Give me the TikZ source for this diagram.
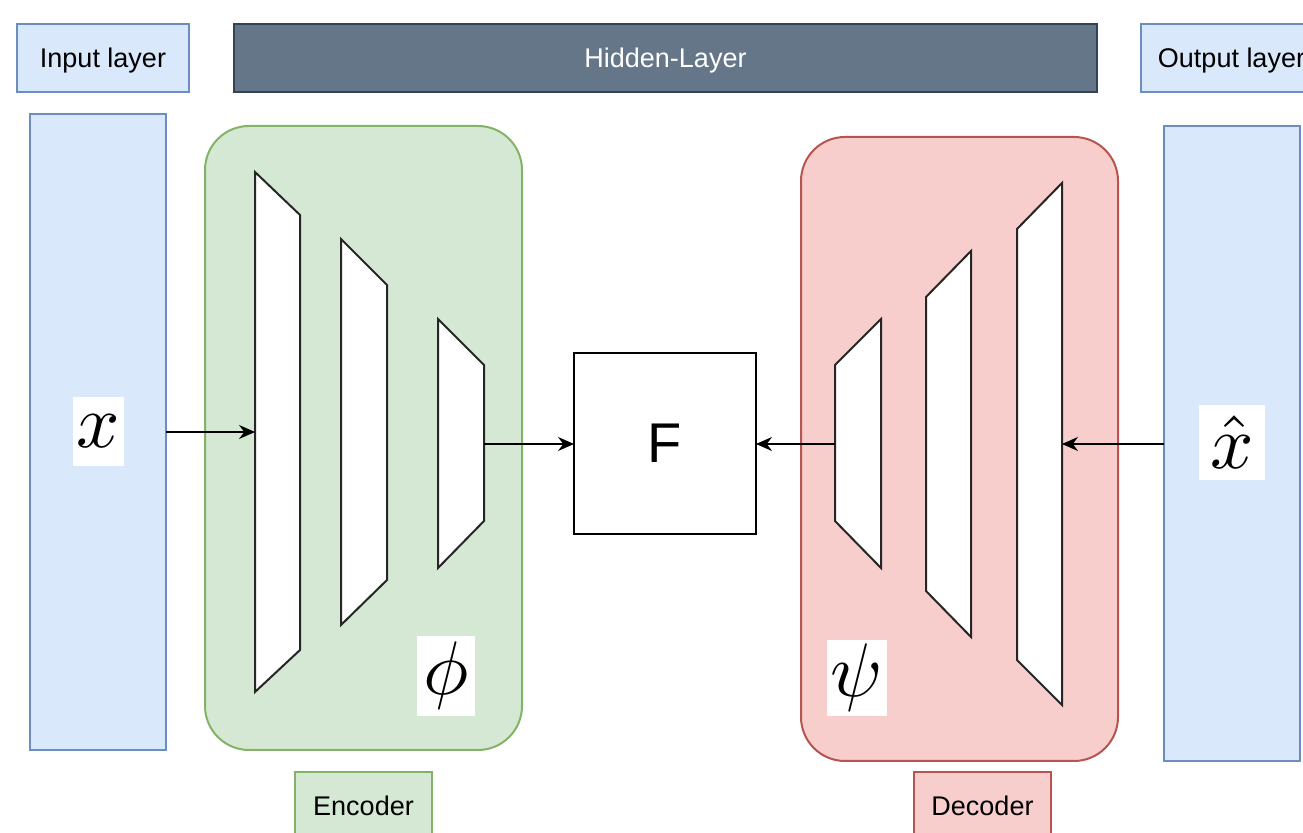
\documentclass[tikz,border=0pt]{standalone}
\usepackage{graphicx}
\usepackage{fontspec}
\setmainfont{Liberation Sans}
\usetikzlibrary{arrows.meta}
\definecolor{bluefill}{HTML}{DAE8FC}
\definecolor{blueline}{HTML}{6C8EBF}
\definecolor{greenfill}{HTML}{D5E8D4}
\definecolor{greenline}{HTML}{82B366}
\definecolor{redfill}{HTML}{F8CECC}
\definecolor{redline}{HTML}{B85450}
\definecolor{darkfill}{HTML}{647687}
\definecolor{darkline}{HTML}{314354}
\newcommand{\bigmath}[1]{\scalebox{3.8}{$#1$}}
\tikzset{
  base/.style={inner sep=0pt, outer sep=0pt, line width=1pt},
  bluebox/.style={base, draw=blueline, fill=bluefill},
  greenbox/.style={base, draw=greenline, fill=greenfill},
  redbox/.style={base, draw=redline, fill=redfill},
  darkbox/.style={base, draw=darkline, fill=darkfill, text=white},
  lbl/.style={font=\fontsize{13.5}{15}\selectfont, text height=12.4pt, text depth=2.9pt},
  mathlbl/.style={base, draw=none, fill=white},
  trap/.style={draw=black!85, line width=1pt, fill=white, line join=miter},
  arr/.style={draw=black, line width=0.9pt, -{Stealth[length=8pt,width=7pt]}},
  fbox/.style={base, draw=black, fill=white, font=\fontsize{28}{30}\selectfont},
}
\begin{document}
\begin{tikzpicture}[x=0.5pt,y=-0.5pt]
\useasboundingbox (0,0) rectangle (1303,833);
\clip (0,0) rectangle (1303,833);
% top labels
\node[bluebox, lbl, minimum width=86pt, minimum height=34pt] (inlbl) at (103,58) {Input layer};
\node[darkbox, lbl, minimum width=431.5pt, minimum height=34pt] (hidden) at (665.5,58) {Hidden-Layer};
\node[bluebox, lbl, minimum width=90.5pt, minimum height=34pt] (outlbl) at (1231.5,58) {Output layer};
% input / output columns
\node[bluebox, minimum width=68pt, minimum height=318pt] (incol) at (98,432) {};
\node[mathlbl, minimum width=25.5pt, minimum height=34.5pt] (xlbl) at (98.5,431.5) {\bigmath{x}};
\node[bluebox, minimum width=68pt, minimum height=317.5pt] (outcol) at (1232,443.5) {};
\node[mathlbl, minimum width=33pt, minimum height=37.5pt] (xhatlbl) at (1232,442.5) {\bigmath{\hat{x}}};
% encoder / decoder containers
\node[greenbox, rounded corners=22pt, minimum width=158.5pt, minimum height=312pt] (enc) at (363.5,438) {};
\node[redbox, rounded corners=22pt, minimum width=158.5pt, minimum height=312pt] (dec) at (959.5,449) {};
% bottom labels
\node[greenbox, lbl, minimum width=68.5pt, minimum height=34pt] (enclbl) at (363.5,806) {Encoder};
\node[redbox, lbl, minimum width=68.5pt, minimum height=34pt] (declbl) at (982.5,806) {Decoder};
% encoder layers
\draw[trap] (255,172) -- (300,215) -- (300,650) -- (255,692) -- cycle;
\draw[trap] (341,239) -- (387,285) -- (387,580) -- (341,625) -- cycle;
\draw[trap] (438,319) -- (484,365) -- (484,521) -- (438,568) -- cycle;
% decoder layers
\draw[trap] (835,365) -- (881,319) -- (881,568) -- (835,521) -- cycle;
\draw[trap] (926,297) -- (971,251) -- (971,637) -- (926,591) -- cycle;
\draw[trap] (1017,229) -- (1062,183) -- (1062,705) -- (1017,660) -- cycle;
% greek labels
\node[mathlbl, minimum width=29pt, minimum height=40pt] (philbl) at (446,676) {\bigmath{\phi}};
\node[mathlbl, minimum width=30pt, minimum height=38pt] (psilbl) at (857,678) {\bigmath{\psi}};
% latent
\node[fbox, minimum width=91pt, minimum height=90.5pt] (F) at (665,443.5) {F};
% connector endpoints
\coordinate (e1in) at (255,432);
\coordinate (e3out) at (484,444);
\coordinate (d1out) at (835,444);
\coordinate (d3in) at (1062,444);
\draw[arr] (incol.east |- e1in) -- (e1in);
\draw[arr] (e3out) -- (F.west |- e3out);
\draw[arr] (d1out) -- (F.east |- d1out);
\draw[arr] (outcol.west |- d3in) -- (d3in);
\end{tikzpicture}
\end{document}
